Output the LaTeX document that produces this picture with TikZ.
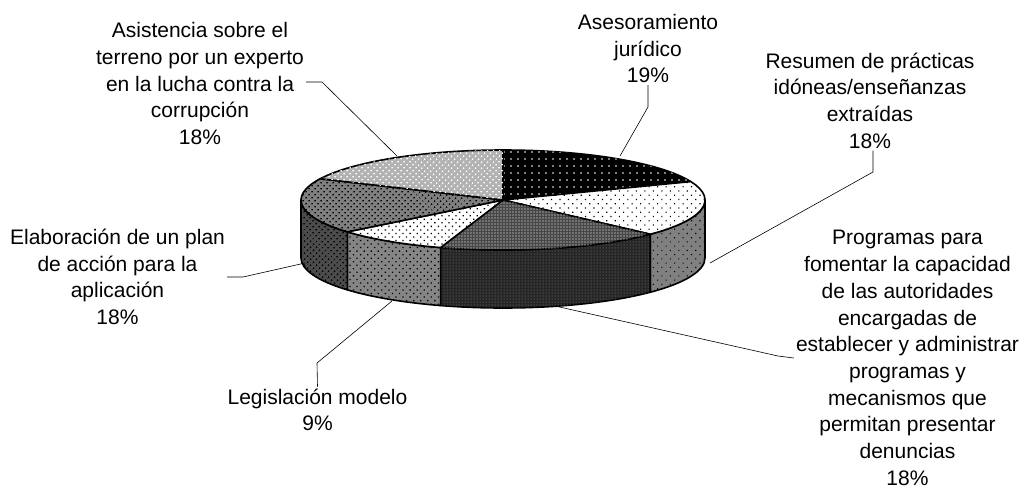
\documentclass[tikz,border=0pt]{standalone}
\usepackage{fontspec}
\setmainfont{Liberation Sans}
\usetikzlibrary{patterns.meta}

\begin{document}
\begin{tikzpicture}[x=1pt,y=-1pt,
    every node/.style={font=\fontsize{21}{26.7}\selectfont, align=center, inner sep=2pt},
    edge/.style={draw=black, line width=1.6pt, line join=round},
    leader/.style={draw=black, line width=0.6pt},
    asesortop/.style={edge, fill=black, postaction={pattern={Dots[distance=7pt,radius=0.9pt]}, pattern color=white}},
    resumentop/.style={edge, fill=white, postaction={pattern={Dots[distance=6pt,angle=45,radius=0.8pt]}, pattern color=black}},
    resumenside/.style={edge, fill=black!50, postaction={pattern={Dots[distance=6pt,angle=45,radius=0.8pt]}, pattern color=black}},
    programtop/.style={edge, fill=black!72, postaction={pattern={Dots[distance=3pt,radius=0.6pt]}, pattern color=white}},
    programside/.style={edge, fill=black!85, postaction={pattern={Dots[distance=3pt,radius=0.5pt]}, pattern color=black!45}},
    legistop/.style={edge, fill=white, postaction={pattern={Dots[distance=5pt,angle=45,radius=0.9pt]}, pattern color=black}},
    legisside/.style={edge, fill=black!48, postaction={pattern={Dots[distance=5pt,angle=45,radius=0.9pt]}, pattern color=black}},
    elabtop/.style={edge, fill=black!50, postaction={pattern={Dots[distance=4pt,angle=45,radius=1pt]}, pattern color=black}},
    elabside/.style={edge, fill=black!70, postaction={pattern={Dots[distance=4pt,angle=45,radius=1pt]}, pattern color=black}},
    asisttop/.style={edge, fill=black!30, postaction={pattern={Dots[distance=4pt,angle=45,radius=1pt]}, pattern color=white}}]
  \useasboundingbox (0,0) rectangle (1028,488);
  \begin{scope}[shift={(503,200)}]
    \foreach \a/\b/\s in {0/43.2/resumenside, 43.2/108/programside, 108/140.4/legisside, 140.4/180/elabside}
      \path[\s] (\a:202 and 50) arc[start angle=\a, end angle=\b, x radius=202, y radius=50]
        -- ++(0,58) arc[start angle=\b, end angle=\a, x radius=202, y radius=50] -- cycle;
    \foreach \a/\b/\s in {-90/-21.6/asesortop, -21.6/43.2/resumentop, 43.2/108/programtop, 108/140.4/legistop, 140.4/205.2/elabtop, 205.2/270/asisttop}
      \path[\s] (0,0) -- (\a:202 and 50) arc[start angle=\a, end angle=\b, x radius=202, y radius=50] -- cycle;
  \end{scope}

  \node (asist) at (200,83.5) {Asistencia sobre el\\terreno por un experto\\en la lucha contra la\\corrupción\\18\%};
  \node (asesor) at (648,48.5) {Asesoramiento\\jurídico\\19\%};
  \node (resumen) at (870,100.5) {Resumen de prácticas\\idóneas/enseñanzas\\extraídas\\18\%};
  \node (program) at (907.5,358) {Programas para\\fomentar la capacidad\\de las autoridades\\encargadas de\\establecer y administrar\\programas y\\mecanismos que\\permitan presentar\\denuncias\\18\%};
  \node (elab) at (117.5,277) {Elaboración de un plan\\de acción para la\\aplicación\\18\%};
  \node (legis) at (317.5,410) {Legislación modelo\\9\%};

  \coordinate (asist-k) at (322,82);
  \coordinate (asist-p) at (397,156);
  \coordinate (asesor-k) at (648,107);
  \coordinate (asesor-p) at (620,156);
  \coordinate (resumen-k) at (873,172);
  \coordinate (resumen-p) at (710,263);
  \coordinate (program-k) at (778,356);
  \coordinate (program-p) at (555,306);
  \coordinate (elab-k) at (243,277);
  \coordinate (elab-p) at (305,263);
  \coordinate (legis-k) at (317,363);
  \coordinate (legis-p) at (392,301);

  \draw[leader] (asist.east |- asist-k) -- (asist-k) -- (asist-p);
  \draw[leader] (asesor.south) -- (asesor-k) -- (asesor-p);
  \draw[leader] (resumen.south -| resumen-k) -- (resumen-k) -- (resumen-p);
  \draw[leader] (program.west) -- (program-k) -- (program-p);
  \draw[leader] (elab.east) -- (elab-k) -- (elab-p);
  \draw[leader] (legis.north) -- (legis-k) -- (legis-p);
\end{tikzpicture}
\end{document}
